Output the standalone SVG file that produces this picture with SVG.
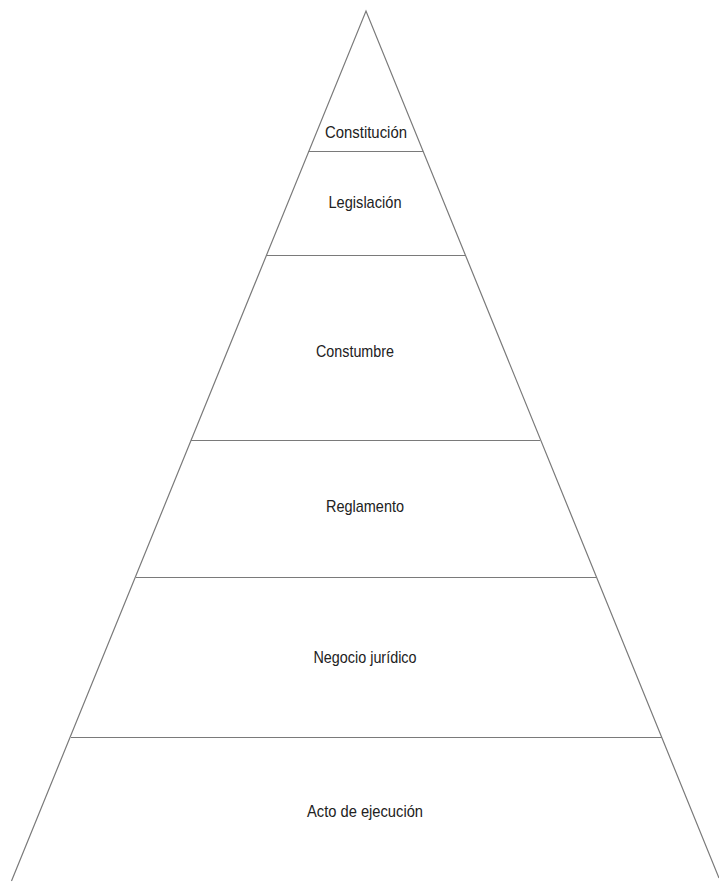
<svg xmlns="http://www.w3.org/2000/svg" width="719" height="883" viewBox="0 0 719 883">
<style>
.ln{stroke:#7a7a7a;stroke-width:1.2;fill:none}
.lb{font-family:"Liberation Sans Narrow","Liberation Sans",Arial,sans-serif;font-size:17px;fill:#222;text-anchor:middle}
</style>
<rect width="719" height="883" fill="#fff"/>
<g id="connectors">
<polyline class="ln" points="11.5,881 366,11 719,878"/>
</g>
<g id="constitucion"><line class="ln" x1="308.5" y1="151.5" x2="423" y2="151.5"/><text class="lb" x="366" y="138" textLength="82" lengthAdjust="spacingAndGlyphs">Constitución</text></g>
<g id="legislacion"><line class="ln" x1="266" y1="255.5" x2="466" y2="255.5"/><text class="lb" x="365" y="208" textLength="73" lengthAdjust="spacingAndGlyphs">Legislación</text></g>
<g id="costumbre"><line class="ln" x1="191" y1="440.5" x2="540" y2="440.5"/><text class="lb" x="355" y="357" textLength="78" lengthAdjust="spacingAndGlyphs">Constumbre</text></g>
<g id="reglamento"><line class="ln" x1="136" y1="577.5" x2="596" y2="577.5"/><text class="lb" x="365" y="512" textLength="78" lengthAdjust="spacingAndGlyphs">Reglamento</text></g>
<g id="negocio"><line class="ln" x1="71" y1="737.5" x2="662" y2="737.5"/><text class="lb" x="365" y="663" textLength="103" lengthAdjust="spacingAndGlyphs">Negocio jurídico</text></g>
<g id="acto"><text class="lb" x="365" y="817" textLength="116" lengthAdjust="spacingAndGlyphs">Acto de ejecución</text></g>
</svg>
